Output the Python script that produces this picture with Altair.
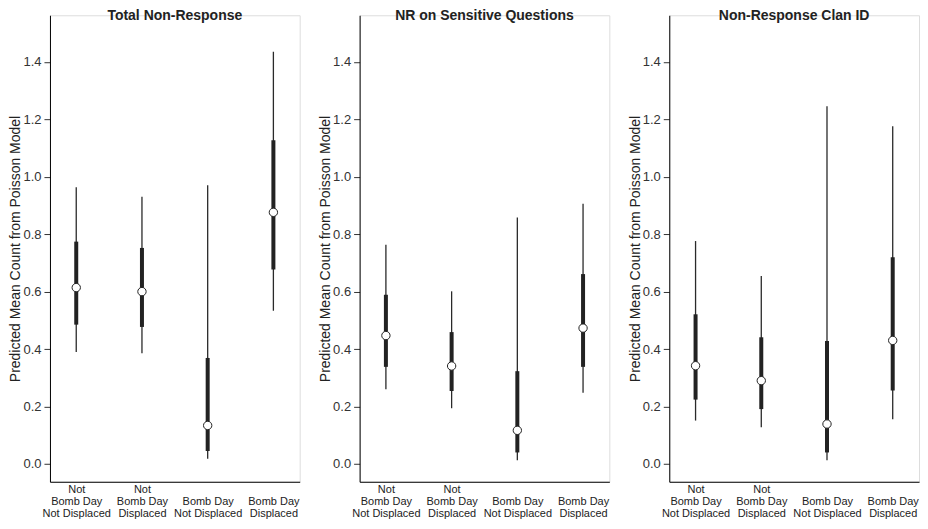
import altair as alt
import pandas as pd

categories = ["Not|Bomb Day|Not Displaced", "Not|Bomb Day|Displaced",
              "|Bomb Day|Not Displaced", "|Bomb Day|Displaced"]
panel_titles = ["Total Non-Response", "NR on Sensitive Questions", "Non-Response Clan ID"]

# per panel: point estimate, inner (thick) interval, outer (thin) interval
est = [[0.614, 0.600, 0.134, 0.876],
       [0.447, 0.341, 0.117, 0.473],
       [0.342, 0.290, 0.139, 0.430]]
inner_lo = [[0.485, 0.477, 0.045, 0.677],
            [0.338, 0.254, 0.040, 0.338],
            [0.224, 0.191, 0.040, 0.256]]
inner_hi = [[0.774, 0.752, 0.369, 1.127],
            [0.589, 0.459, 0.323, 0.661],
            [0.521, 0.441, 0.428, 0.720]]
outer_lo = [[0.390, 0.385, 0.018, 0.533],
            [0.260, 0.194, 0.013, 0.248],
            [0.151, 0.128, 0.013, 0.156]]
outer_hi = [[0.963, 0.930, 0.970, 1.435],
            [0.763, 0.601, 0.858, 0.906],
            [0.776, 0.654, 1.245, 1.176]]

y_ticks = [0.0, 0.2, 0.4, 0.6, 0.8, 1.0, 1.2, 1.4]
FONT = "Liberation Sans"

def panel(i):
    df = pd.DataFrame({
        "cat": categories,
        "est": est[i],
        "ilo": inner_lo[i], "ihi": inner_hi[i],
        "olo": outer_lo[i], "ohi": outer_hi[i],
    })
    x = alt.X("cat:O", sort=categories, title=None,
              scale=alt.Scale(type="point", padding=0.4),
              axis=alt.Axis(labelAngle=0, labelExpr="split(datum.label, '|')",
                            labelFontSize=11, labelLineHeight=12, labelColor="#222",
                            labelFont=FONT, tickSize=0, labelPadding=2,
                            domainColor="#000", labelBaseline="top"))
    y_scale = alt.Scale(domain=[-0.062, 1.562], nice=False, zero=False)
    y_axis = alt.Axis(values=y_ticks, format=".1f", grid=False, tickSize=6,
                      labelPadding=3, labelFontSize=13, labelColor="#333",
                      labelFont=FONT, tickColor="#333", domainColor="#000",
                      title="Predicted Mean Count from Poisson Model",
                      titleFontSize=14, titleFontWeight="normal", titleFont=FONT,
                      titleColor="#222", titlePadding=0)
    base = alt.Chart(df)
    outer = base.mark_rule(color="#2a2a2a", strokeWidth=1.3).encode(
        x=x, y=alt.Y("olo:Q", scale=y_scale, axis=y_axis), y2="ohi:Q")
    inner = base.mark_rule(color="#222", strokeWidth=4).encode(
        x=x, y=alt.Y("ilo:Q", scale=y_scale, axis=y_axis), y2="ihi:Q")
    pts = base.mark_point(filled=True, fill="white", stroke="#222", strokeWidth=1,
                          size=70, opacity=1, shape="circle").encode(
        x=x, y=alt.Y("est:Q", scale=y_scale, axis=y_axis))
    return alt.layer(outer, inner, pts).properties(
        width=250, height=467,
        title=alt.TitleParams(panel_titles[i], fontSize=14, fontWeight="bold",
                              font=FONT, color="#222", offset=-8, anchor="middle"))

chart = alt.hconcat(panel(0), panel(1), panel(2), spacing=17).configure_view(
    stroke="#666", strokeWidth=1.2
).configure(padding=0, background="white")

chart.save("out.html", embed_options={"renderer": "svg", "actions": False})
